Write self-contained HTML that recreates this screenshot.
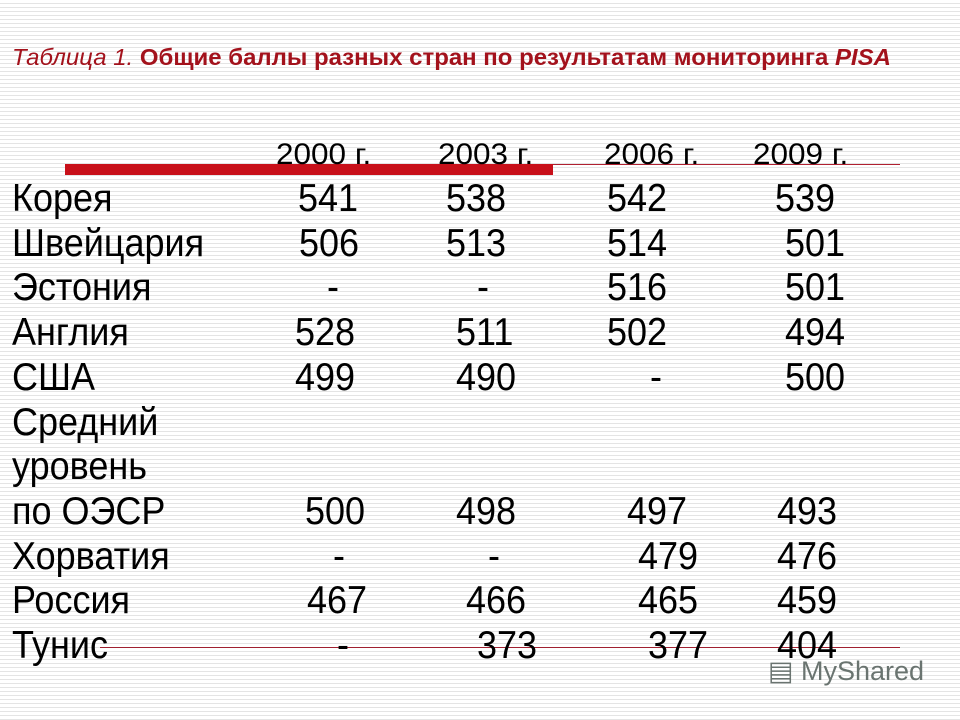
<!DOCTYPE html>
<html><head><meta charset="utf-8"><style>
html,body{margin:0;padding:0}
body{width:960px;height:720px;position:relative;overflow:hidden;font-family:"Liberation Sans",sans-serif;
background:#fff repeating-linear-gradient(to bottom,#fff 0,#fff 3px,#e4e4e4 3px,#e4e4e4 4px);}
.t{position:absolute;line-height:36px;font-size:36px;color:#000;white-space:nowrap;transform:scaleY(1.08);transform-origin:left center}
.h{position:absolute;font-size:30px;line-height:30px;color:#000;white-space:nowrap;transform:scale(1.05,1.0);transform-origin:left center}
</style></head><body>
<div style="position:absolute;left:12px;top:44px;font-size:23.5px;color:#a3121c;white-space:nowrap;transform:scaleX(1.02);transform-origin:left center"><i>Таблица 1.</i> <b>Общие баллы разных стран по результатам мониторинга <i>PISA</i></b></div>
<div style="position:absolute;left:65px;top:164px;width:488px;height:11px;background:#c8101a"></div>
<div style="position:absolute;left:553px;top:164px;width:347px;height:1px;background:#b02030"></div>
<div style="position:absolute;left:100px;top:647px;width:800px;height:1px;background:#a02030"></div>
<div style="position:absolute;left:768px;top:656px;font-size:27px;color:#6a7470;white-space:nowrap">&#9636;&nbsp;MyShared</div>
<div id="tbl"></div>
<script>
const years=["2000 г.","2003 г.","2006 г.","2009 г."];
const yearX=[276,438,604,753];
const countries=["Корея","Швейцария","Эстония","Англия","США","Средний","уровень","по ОЭСР","Хорватия","Россия","Тунис"];
const v2000=["541","506","-","528","499","","","500","-","467","-"];
const v2003=["538","513","-","511","490","","","498","-","466","373"];
const v2006=["542","514","516","502","-","","","497","479","465","377"];
const v2009=["539","501","501","494","500","","","493","476","459","404"];
const xs=[[298,446,607,775],[299,446,607,785],[327,477,607,785],[295,456,607,785],[295,456,650,785],[0,0,0,0],[0,0,0,0],[305,456,627,777],[333,488,638,777],[307,466,638,777],[337,477,648,777]];
const tbl=document.getElementById('tbl');
years.forEach((y,i)=>{const d=document.createElement('div');d.className='h';d.textContent=y;
d.style.left=yearX[i]+'px';d.style.top='140px';


tbl.appendChild(d);});
const cols=[v2000,v2003,v2006,v2009];
countries.forEach((c,r)=>{const cy=198+r*44.7;
const d=document.createElement('div');d.className='t';d.textContent=c;d.style.left='12px';d.style.top=(cy-18)+'px';


tbl.appendChild(d);
cols.forEach((col,ci)=>{if(!col[r])return;const e=document.createElement('div');e.className='t';e.textContent=col[r];
e.style.left=xs[r][ci]+'px';e.style.top=(cy-18)+'px';


tbl.appendChild(e);});});
</script>
</body></html>
